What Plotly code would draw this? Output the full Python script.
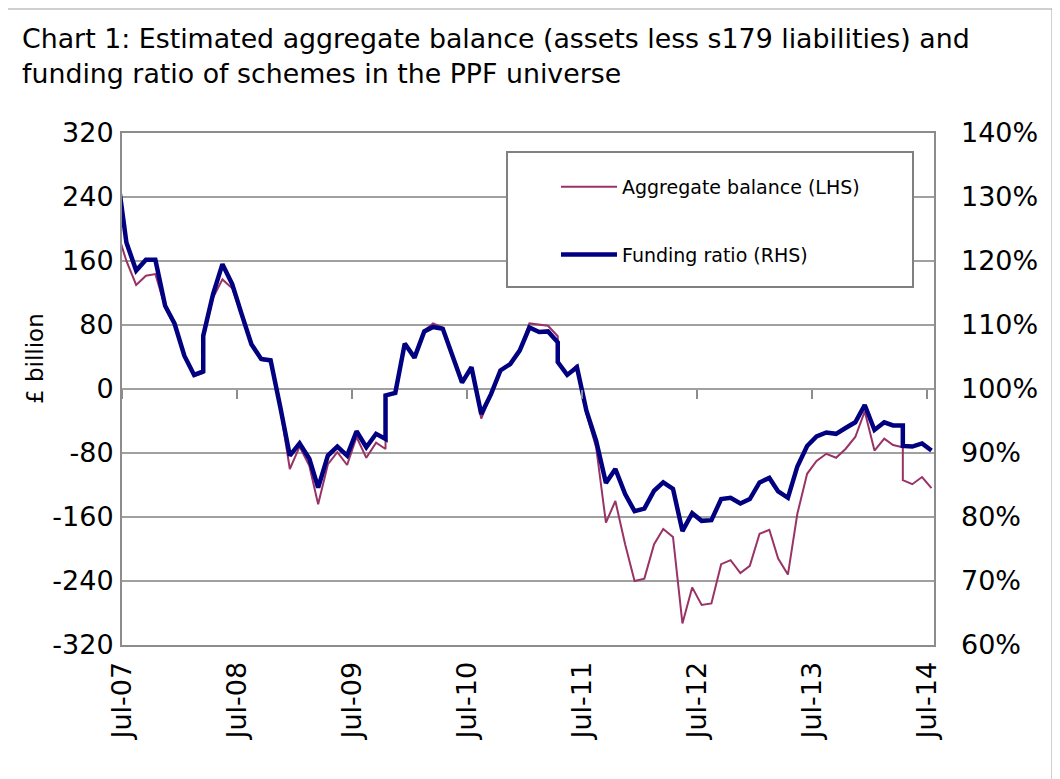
import plotly.graph_objects as go

# ---------------- data ----------------
dates = [
    "2007-06-15",
    "2007-07-15", "2007-08-15", "2007-09-15", "2007-10-15", "2007-11-15", "2007-12-15",
    "2008-01-15", "2008-02-15", "2008-03-15", "2008-03-15", "2008-04-15", "2008-05-15",
    "2008-06-15", "2008-07-15", "2008-08-15", "2008-09-15", "2008-10-15", "2008-11-15", "2008-12-15",
    "2009-01-15", "2009-02-15", "2009-03-15", "2009-04-15", "2009-05-15", "2009-06-15",
    "2009-07-15", "2009-08-15", "2009-09-15", "2009-10-15", "2009-10-15", "2009-11-15", "2009-12-15",
    "2010-01-15", "2010-02-15", "2010-03-15", "2010-04-15", "2010-05-15", "2010-06-15",
    "2010-07-15", "2010-08-15", "2010-09-15", "2010-10-15", "2010-11-15", "2010-12-15",
    "2011-01-15", "2011-02-15", "2011-03-15", "2011-04-15", "2011-04-15", "2011-05-15", "2011-06-15",
    "2011-07-15", "2011-08-15", "2011-09-15", "2011-10-15", "2011-11-15", "2011-12-15",
    "2012-01-15", "2012-02-15", "2012-03-15", "2012-04-15", "2012-05-15", "2012-06-15",
    "2012-07-15", "2012-08-15", "2012-09-15", "2012-10-15", "2012-11-15", "2012-12-15",
    "2013-01-15", "2013-02-15", "2013-03-15", "2013-04-15", "2013-05-15", "2013-06-15",
    "2013-07-15", "2013-08-15", "2013-09-15", "2013-10-15", "2013-11-15", "2013-12-15",
    "2014-01-15", "2014-02-15", "2014-03-15", "2014-04-15", "2014-04-15", "2014-05-15",
    "2014-06-15", "2014-07-15",
]

# Aggregate balance, £ billion (left axis)
balance_bn = [
    198,
    160, 130, 141.6, 143.7, 102, 80,
    40, 16, 20, 64, 114, 137,
    126, 92, 55, 36, 34, -25, -100,
    -72, -96, -144, -94, -79, -95,
    -60, -86, -67, -75, -8, -5, 57,
    39, 73, 82, 77, 42, 8,
    27, -37, -7, 23, 31, 49,
    82, 80, 79, 66, 33, 18, 30,
    -31, -73, -167, -140, -194, -240,
    -237, -194, -175, -185, -293, -248,
    -270, -268, -219, -214, -230, -221,
    -181, -176, -212, -232, -156, -106,
    -90, -81, -86, -75, -60, -28,
    -77, -62, -70, -73, -114, -119,
    -110, -124,
]

# Funding ratio, % (right axis)
funding_ratio_pct = [
    133.9,
    122.9, 118.5, 120.2, 120.2, 113.0, 110.2,
    105.2, 102.2, 102.75, 108.3, 114.8, 119.5,
    116.4, 111.7, 107.0, 104.7, 104.5, 97.1, 89.6,
    91.5, 89.1, 84.6, 89.6, 91.0, 89.6,
    93.4, 90.9, 93.0, 92.2, 99.0, 99.4, 107.1,
    104.9, 109.0, 109.7, 109.4, 105.2, 101.0,
    103.4, 96.1, 99.2, 102.9, 103.9, 106.0,
    109.6, 108.9, 109.0, 107.3, 104.2, 102.2, 103.4,
    96.6, 91.9, 85.3, 87.5, 83.6, 80.9,
    81.3, 84.1, 85.4, 84.4, 77.8, 80.6,
    79.4, 79.5, 82.8, 83.0, 82.1, 82.8,
    85.4, 86.1, 84.0, 83.0, 87.9, 91.1,
    92.6, 93.2, 93.0, 93.9, 94.8, 97.5,
    93.6, 94.8, 94.3, 94.3, 91.1, 91.0,
    91.5, 90.4,
]

left_ticks = [-320, -240, -160, -80, 0, 80, 160, 240, 320]
left_tick_labels = ["-320", "-240", "-160", "-80", "0", "80", "160", "240", "320"]
right_ticks = [60, 70, 80, 90, 100, 110, 120, 130, 140]
right_tick_labels = ["60%", "70%", "80%", "90%", "100%", "110%", "120%", "130%", "140%"]
x_range = ["2007-07-01", "2014-07-23"]

title_text = ("Chart 1: Estimated aggregate balance (assets less s179 liabilities) and"
              "<br>funding ratio of schemes in the PPF universe")

FONT = "DejaVu Sans"
GRID = "#a0a0a0"
FRAME = "#8c8c8c"
TICK_SIZE = 27

fig = go.Figure()
fig.add_trace(go.Scatter(
    x=dates, y=balance_bn, name="Aggregate balance (LHS)", mode="lines",
    line=dict(color="#993366", width=2), yaxis="y", legendgroup="a",
))
fig.add_trace(go.Scatter(
    x=dates, y=funding_ratio_pct, name="Funding ratio (RHS)", mode="lines",
    line=dict(color="#000080", width=4.5), yaxis="y2", legendgroup="b",
))
# carrier for the tick marks drawn on the zero line
fig.add_trace(go.Scatter(x=[], y=[], xaxis="x2", yaxis="y", showlegend=False,
                         hoverinfo="skip"))

fig.update_layout(
    width=1060, height=779,
    margin=dict(l=114, r=134, t=125, b=142, autoexpand=False),
    paper_bgcolor="white", plot_bgcolor="white",
    font=dict(family=FONT, color="black", size=TICK_SIZE),
    showlegend=True,
    title=dict(text=title_text, x=14 / 1060, xref="container", xanchor="left",
               y=1 - 40 / 779, yref="container", yanchor="top",
               pad=dict(l=0, r=0, t=0, b=0),
               font=dict(family=FONT, size=26.8, color="black")),
    xaxis=dict(type="date", range=x_range, tick0="2007-07-01", dtick="M12",
               tickformat="%b-%y", tickangle=-90, ticks="", showgrid=False,
               showline=True, linecolor=FRAME, linewidth=2, mirror=True,
               zeroline=False, tickfont=dict(size=TICK_SIZE), ticklabelstandoff=4),
    xaxis2=dict(type="date", range=x_range, tick0="2007-07-01", dtick="M12",
                overlaying="x", anchor="free", position=0.5, side="bottom",
                ticks="outside", ticklen=9, tickwidth=1.5, tickcolor=FRAME,
                showticklabels=False, showline=False, showgrid=False,
                zeroline=False),
    yaxis=dict(range=[-320, 320], tickvals=left_ticks, ticktext=left_tick_labels,
               showgrid=True, gridcolor=GRID, gridwidth=1.5, zeroline=False,
               showline=True, linecolor=FRAME, linewidth=2, mirror=True,
               ticks="", ticklabelstandoff=1, tickfont=dict(size=TICK_SIZE)),
    yaxis2=dict(range=[60, 140], tickvals=right_ticks, ticktext=right_tick_labels,
                overlaying="y", side="right", showgrid=False, zeroline=False,
                showline=False, ticks="", ticklabelstandoff=26,
                tickfont=dict(size=TICK_SIZE)),
    legend=dict(x=(556 - 122) / 812, y=(645 - 168) / 512, xanchor="left",
                yanchor="top", bgcolor="rgba(0,0,0,0)", borderwidth=0,
                font=dict(family=FONT, size=19), itemwidth=56,
                tracegroupgap=40, traceorder="grouped"),
    annotations=[dict(text="£ billion", xref="paper", yref="paper",
                      x=(35 - 122) / 812, y=(645 - 359) / 512, showarrow=False,
                      textangle=-90, xanchor="center", yanchor="middle",
                      font=dict(family=FONT, size=23, color="black"))],
    shapes=[
        # legend frame
        dict(type="rect", xref="paper", yref="paper",
             x0=(507 - 122) / 812, x1=(913 - 122) / 812,
             y0=(645 - 287) / 512, y1=(645 - 152) / 512,
             line=dict(color="#808080", width=2), fillcolor="white",
             layer="above"),
        # outer chart border
        dict(type="rect", xref="paper", yref="paper",
             x0=(6 - 122) / 812, x1=(1052 - 122) / 812,
             y0=(645 - 800) / 512, y1=(645 - 9) / 512,
             line=dict(color="#a0a0a0", width=1), fillcolor="rgba(0,0,0,0)",
             layer="below"),
    ],
)

fig.write_html("out.html")
